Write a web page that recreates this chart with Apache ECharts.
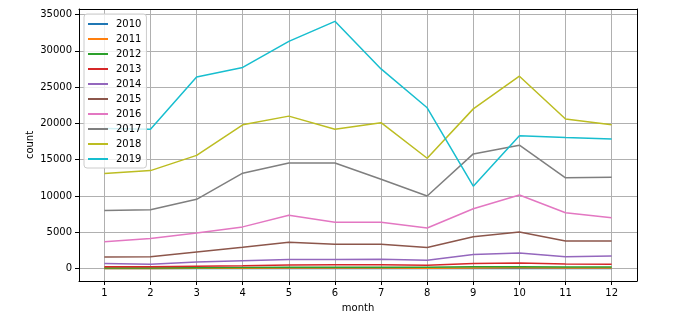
<!DOCTYPE html>
<html>
<head>
<meta charset="utf-8">
<script src="https://cdn.jsdelivr.net/npm/echarts@6/dist/echarts.min.js"></script>
<style>
  html, body { margin: 0; padding: 0; background: #fff; }
  #chart { width: 697px; height: 328px; }
</style>
</head>
<body>
<div id="chart"></div>
<script>
// Monthly counts per year
const months = [1, 2, 3, 4, 5, 6, 7, 8, 9, 10, 11, 12];
const years = ['2010', '2011', '2012', '2013', '2014', '2015', '2016', '2017', '2018', '2019'];

const y2010 = [10, 10, 15, 20, 25, 25, 25, 20, 30, 30, 25, 25];
const y2011 = [30, 35, 50, 60, 80, 80, 80, 70, 100, 110, 90, 90];
const y2012 = [80, 90, 110, 150, 200, 210, 210, 190, 250, 270, 230, 220];
const y2013 = [250, 260, 330, 400, 520, 530, 530, 480, 700, 780, 640, 620];
const y2014 = [700, 600, 900, 1100, 1250, 1250, 1300, 1150, 1950, 2150, 1650, 1750];
const y2015 = [1600, 1650, 2300, 2950, 3650, 3350, 3350, 2900, 4400, 5050, 3800, 3800];
const y2016 = [3700, 4150, 4900, 5750, 7350, 6400, 6400, 5600, 8250, 10150, 7700, 7000];
const y2017 = [8000, 8100, 9550, 13150, 14550, 14550, 12300, 10000, 15800, 17000, 12500, 12600];
const y2018 = [13100, 13500, 15600, 19800, 21000, 19200, 20100, 15200, 22000, 26500, 20600, 19800];
const y2019 = [19300, 19200, 26400, 27700, 31300, 34050, 27500, 22150, 11350, 18300, 18050, 17850];

const yTickValues = [0, 5000, 10000, 15000, 20000, 25000, 30000, 35000];

const seriesValues = [y2010, y2011, y2012, y2013, y2014, y2015, y2016, y2017, y2018, y2019];
const palette = ['#1f77b4', '#ff7f0e', '#2ca02c', '#d62728', '#9467bd',
                 '#8c564b', '#e377c2', '#7f7f7f', '#bcbd22', '#17becf'];

const font = 'DejaVu Sans';
const gridColor = '#b0b0b0';

const chart = echarts.init(document.getElementById('chart'), null, { renderer: 'canvas' });

const series = years.map((name, i) => ({
  name: name,
  type: 'line',
  data: months.map((m, j) => [m, seriesValues[i][j]]),
  showSymbol: false,
  symbol: 'none',
  lineStyle: { width: 1.5, color: palette[i] },
  itemStyle: { color: palette[i] },
  emphasis: { disabled: true },
  animation: false
}));

chart.setOption({
  animation: false,
  backgroundColor: '#ffffff',
  grid: { left: 79, right: 60, top: 9, bottom: 47, containLabel: false },
  xAxis: [{
    type: 'value',
    min: 0.45,
    max: 12.55,
    splitNumber: 12,
    minInterval: 1,
    maxInterval: 1,
    name: 'month',
    nameLocation: 'middle',
    nameGap: 22,
    nameMoveOverlap: false,
    nameTextStyle: { fontFamily: font, fontSize: 10, color: '#000' },
    axisLine: { show: true, onZero: false, lineStyle: { color: '#000', width: 1 } },
    axisTick: { show: true, length: 4, customValues: months, lineStyle: { color: '#000', width: 1 } },
    axisLabel: { customValues: months, margin: 7, fontFamily: font, fontSize: 10, color: '#000',
                 formatter: v => String(v) },
    splitLine: { show: true, lineStyle: { color: gridColor, width: 1 } }
  }, {
    type: 'value',
    position: 'top',
    min: 0.45,
    max: 12.55,
    axisLine: { show: true, onZero: false, lineStyle: { color: '#000', width: 1 } },
    axisTick: { show: false },
    axisLabel: { show: false },
    splitLine: { show: false }
  }],
  yAxis: [{
    type: 'value',
    min: -1700,
    max: 35750,
    splitNumber: 8,
    minInterval: 5000,
    maxInterval: 5000,
    name: 'count',
    nameLocation: 'middle',
    nameGap: 44,
    nameMoveOverlap: false,
    nameTextStyle: { fontFamily: font, fontSize: 10, color: '#000' },
    axisLine: { show: true, onZero: false, lineStyle: { color: '#000', width: 1 } },
    axisTick: { show: true, length: 4, customValues: yTickValues, lineStyle: { color: '#000', width: 1 } },
    axisLabel: { customValues: yTickValues, margin: 7, fontFamily: font, fontSize: 10, color: '#000',
                 formatter: v => String(v) },
    splitLine: { show: true, lineStyle: { color: gridColor, width: 1 } }
  }, {
    type: 'value',
    position: 'right',
    min: -1700,
    max: 35750,
    axisLine: { show: true, onZero: false, lineStyle: { color: '#000', width: 1 } },
    axisTick: { show: false },
    axisLabel: { show: false },
    splitLine: { show: false }
  }],
  legend: {
    data: years,
    orient: 'vertical',
    left: 84,
    top: 14,
    padding: [4, 5, 3, 4],
    itemGap: 3,
    itemWidth: 20,
    itemHeight: 2,
    icon: 'rect',
    backgroundColor: 'rgba(255,255,255,0.8)',
    borderColor: '#cccccc',
    borderWidth: 1,
    borderRadius: 3,
    textStyle: { fontFamily: font, fontSize: 10, color: '#000', lineHeight: 12, padding: [0, 0, 0, 3] }
  },
  series: series
});
</script>
</body>
</html>
